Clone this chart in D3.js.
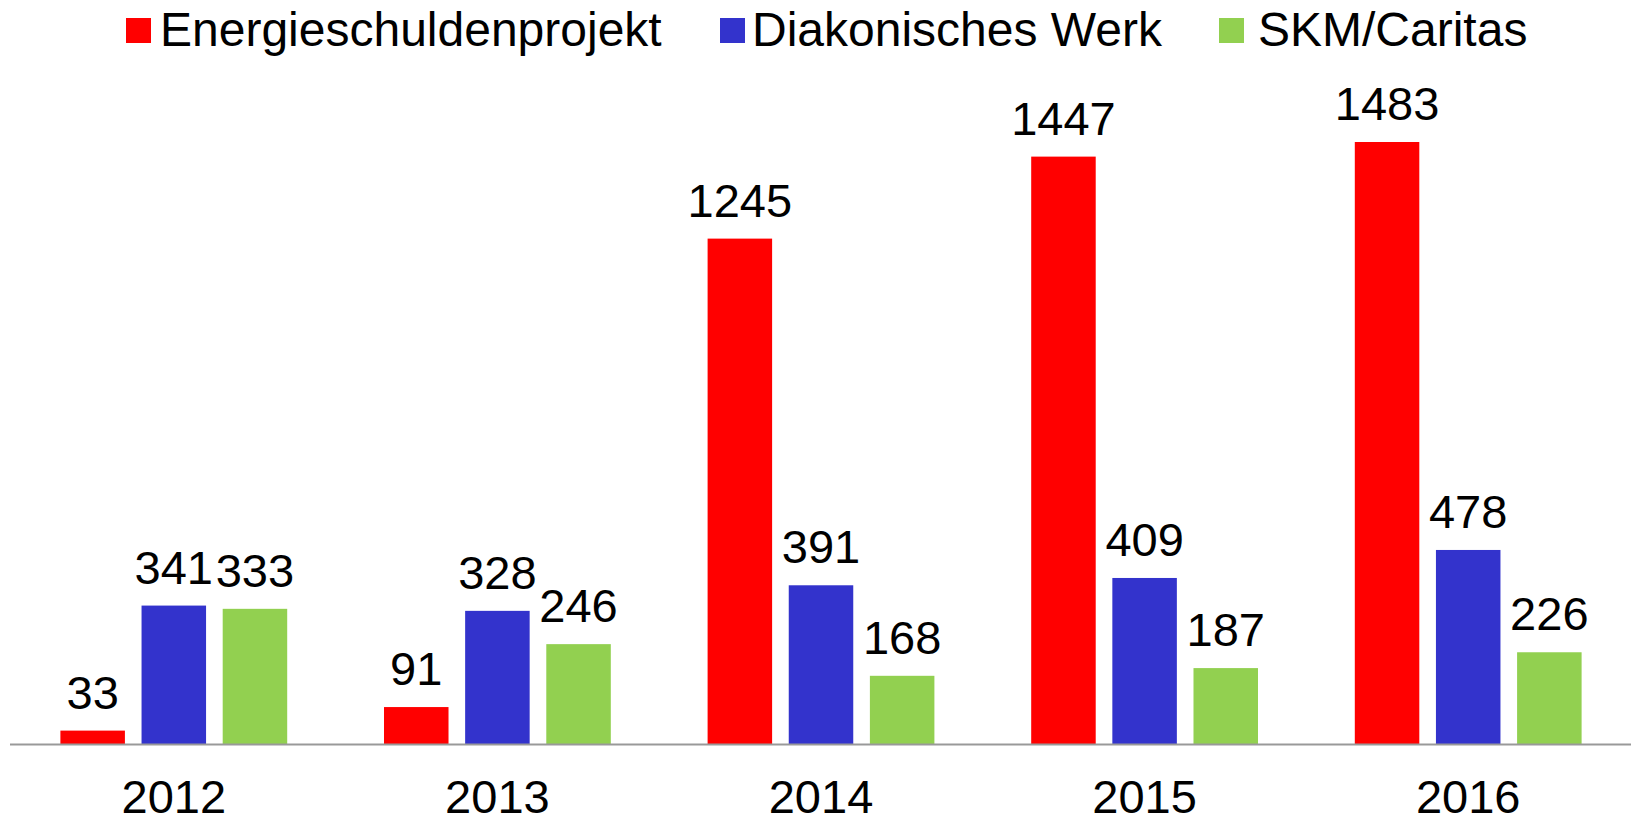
<!DOCTYPE html>
<html><head><meta charset="utf-8">
<script src="https://cdn.jsdelivr.net/npm/d3@7"></script>
<style>body{margin:0;background:#fff}svg{display:block}text{font-family:"Liberation Sans",Arial,sans-serif;fill:#000}</style>
</head><body><svg id="c" width="1631" height="822"></svg>
<script>
const years = ["2012","2013","2014","2015","2016"];
const seriesNames = ["Energieschuldenprojekt","Diakonisches Werk","SKM/Caritas"];
const energie = [33,91,1245,1447,1483];
const diakonie = [341,328,391,409,478];
const skm = [333,246,168,187,226];
const colors = ["#FF0000","#3333CC","#92D050"];
const seriesValues = [energie, diakonie, skm];

(function(){
const svg = d3.select("#c");
const FS = 47;
const left = 12, right = 1630, base = 744, plotTop = 142;
const x0 = d3.scaleBand().domain(years).range([left,right]).paddingInner(0).paddingOuter(0);
const x1 = d3.scaleBand().domain(d3.range(3)).range([48.4, x0.bandwidth()-48.4]).paddingInner(0.205).paddingOuter(0);
const y = d3.scaleLinear().domain([0,1483]).range([base, plotTop]);

const g = svg.append("g");
years.forEach((yr,i)=>{
  const gg = g.append("g").attr("transform",`translate(${x0(yr)},0)`);
  seriesValues.forEach((vals,s)=>{
    gg.append("rect").attr("x",x1(s)).attr("width",x1.bandwidth())
      .attr("y",y(vals[i])).attr("height",base-y(vals[i])).attr("fill",colors[s]);
    gg.append("text").attr("x",x1(s)+x1.bandwidth()/2).attr("y",y(vals[i])-22)
      .attr("text-anchor","middle").attr("font-size",FS).text(vals[i]);
  });
});
svg.append("line").attr("x1",10).attr("x2",1631).attr("y1",base+0.5).attr("y2",base+0.5)
  .attr("stroke","#999").attr("stroke-width",2);
const xAxis = d3.axisBottom(x0).tickSize(0).tickPadding(0);
const ax = svg.append("g").attr("transform",`translate(0,${base})`).call(xAxis);
ax.select(".domain").remove();
ax.selectAll("text").attr("font-size",FS).attr("dy",0).attr("y",69).style("font-family",'"Liberation Sans",Arial,sans-serif').attr("fill","#000");

const legX = [126,720,1219];
const legTX = [160,752,1258];
const leg = svg.append("g");
seriesNames.forEach((n,i)=>{
  leg.append("rect").attr("x",legX[i]).attr("y",18).attr("width",25).attr("height",25).attr("fill",colors[i]);
  leg.append("text").attr("x",legTX[i]).attr("y",46).attr("font-size",48).text(n);
});
})();
</script></body></html>
